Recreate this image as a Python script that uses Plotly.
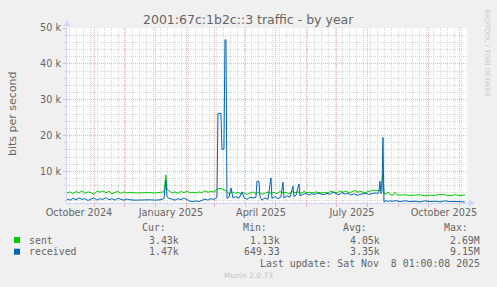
import plotly.graph_objects as go
import pandas as pd

# ---------------- data ----------------
sent_dates = [
    "2024-10-04", "2024-10-07", "2024-10-10", "2024-10-13", "2024-10-16", "2024-10-19",
    "2024-10-22", "2024-10-25", "2024-10-28", "2024-10-31", "2024-11-03", "2024-11-06",
    "2024-11-09", "2024-11-12", "2024-11-15", "2024-11-18", "2024-11-21", "2024-11-24",
    "2024-11-27", "2024-11-30", "2024-12-03", "2024-12-06", "2024-12-11", "2024-12-16",
    "2024-12-21", "2024-12-26", "2024-12-31", "2025-01-05", "2025-01-09", "2025-01-11",
    "2025-01-12", "2025-01-14", "2025-01-17", "2025-01-20", "2025-01-23", "2025-01-26",
    "2025-01-29", "2025-02-01", "2025-02-04", "2025-02-07", "2025-02-10", "2025-02-13",
    "2025-02-16", "2025-02-19", "2025-02-22", "2025-02-25", "2025-02-28", "2025-03-03",
    "2025-03-06", "2025-03-09", "2025-03-12", "2025-03-15", "2025-03-18", "2025-03-21",
    "2025-03-24", "2025-03-27", "2025-03-30", "2025-04-02", "2025-04-05", "2025-04-08",
    "2025-04-11", "2025-04-14", "2025-04-17", "2025-04-20", "2025-04-23", "2025-04-26",
    "2025-04-29", "2025-05-02", "2025-05-05", "2025-05-08", "2025-05-11", "2025-05-14",
    "2025-05-17", "2025-05-20", "2025-05-23", "2025-05-26", "2025-05-29", "2025-06-01",
    "2025-06-04", "2025-06-07", "2025-06-10", "2025-06-13", "2025-06-16", "2025-06-19",
    "2025-06-22", "2025-06-25", "2025-06-28", "2025-07-01", "2025-07-04", "2025-07-07",
    "2025-07-10", "2025-07-13", "2025-07-16", "2025-07-19", "2025-07-22", "2025-07-25",
    "2025-07-28", "2025-07-31", "2025-08-03", "2025-08-06", "2025-08-09", "2025-08-12",
    "2025-08-14", "2025-08-16", "2025-08-17", "2025-08-19", "2025-08-21", "2025-08-23",
    "2025-08-26", "2025-08-28", "2025-08-30", "2025-09-02", "2025-09-07", "2025-09-12",
    "2025-09-17", "2025-09-22", "2025-09-27", "2025-10-02", "2025-10-07", "2025-10-12",
    "2025-10-17", "2025-10-22", "2025-10-27", "2025-11-01", "2025-11-06",
]
sent_kbps = [
    3.9, 4.3, 3.8, 4.4, 4.0, 4.6,
    3.9, 4.3, 4.1, 3.6, 4.5, 4.2,
    4.6, 4.0, 4.5, 3.7, 4.2, 4.4,
    3.9, 4.3, 4.0, 4.2, 4.0, 4.1,
    4.0, 4.1, 4.0, 4.1, 4.3, 9.0,
    5.0, 4.6, 4.0, 4.3, 3.9, 4.4,
    4.1, 4.5, 4.0, 4.2, 4.0, 4.3,
    4.1, 4.6, 4.2, 4.4, 4.3, 5.0,
    5.3, 5.0, 4.6, 3.8, 4.3, 3.9,
    4.2, 3.7, 4.1, 3.6, 4.0, 4.3,
    3.8, 4.2, 3.6, 4.0, 4.3, 3.9,
    4.2, 3.8, 4.4, 4.0, 4.2, 3.7,
    4.4, 4.1, 4.3, 3.9, 4.4, 4.1,
    4.2, 4.0, 4.3, 4.1, 4.0, 4.2,
    4.0, 4.5, 4.3, 4.0, 4.6, 4.2,
    4.5, 4.1, 4.3, 4.7, 4.2, 4.5,
    4.0, 4.3, 4.6, 4.8, 4.7, 4.6,
    4.9, 9.4, 3.8, 3.7, 4.3, 3.5,
    3.4, 4.2, 3.5, 3.4, 3.5, 3.3,
    3.4, 3.5, 3.2, 3.4, 3.3, 3.6,
    3.5, 3.2, 3.5, 3.3, 3.43,
]

recv_dates = [
    "2024-10-04", "2024-10-07", "2024-10-10", "2024-10-13", "2024-10-16", "2024-10-19",
    "2024-10-22", "2024-10-25", "2024-10-28", "2024-10-31", "2024-11-03", "2024-11-06",
    "2024-11-09", "2024-11-12", "2024-11-15", "2024-11-18", "2024-11-21", "2024-11-24",
    "2024-11-27", "2024-11-30", "2024-12-03", "2024-12-06", "2024-12-11", "2024-12-16",
    "2024-12-21", "2024-12-26", "2024-12-31", "2025-01-05", "2025-01-09", "2025-01-11",
    "2025-01-12", "2025-01-14", "2025-01-17", "2025-01-20", "2025-01-23", "2025-01-26",
    "2025-01-29", "2025-02-01", "2025-02-04", "2025-02-07", "2025-02-10", "2025-02-13",
    "2025-02-16", "2025-02-19", "2025-02-22", "2025-02-25", "2025-02-28", "2025-03-03",
    "2025-03-04", "2025-03-07", "2025-03-08", "2025-03-10", "2025-03-11", "2025-03-12",
    "2025-03-13", "2025-03-15", "2025-03-17", "2025-03-19", "2025-03-22", "2025-03-25",
    "2025-03-28", "2025-03-30", "2025-04-02", "2025-04-05", "2025-04-08", "2025-04-11",
    "2025-04-12", "2025-04-14", "2025-04-15", "2025-04-17", "2025-04-20", "2025-04-23",
    "2025-04-26", "2025-04-27", "2025-04-30", "2025-05-03", "2025-05-06", "2025-05-08",
    "2025-05-09", "2025-05-12", "2025-05-15", "2025-05-18", "2025-05-19", "2025-05-21",
    "2025-05-24", "2025-05-25", "2025-05-28", "2025-05-31", "2025-06-03", "2025-06-06",
    "2025-06-09", "2025-06-12", "2025-06-15", "2025-06-18", "2025-06-21", "2025-06-24",
    "2025-06-27", "2025-06-30", "2025-07-03", "2025-07-06", "2025-07-09", "2025-07-12",
    "2025-07-15", "2025-07-18", "2025-07-21", "2025-07-24", "2025-07-27", "2025-07-30",
    "2025-08-02", "2025-08-05", "2025-08-08", "2025-08-11", "2025-08-12", "2025-08-13",
    "2025-08-14", "2025-08-15", "2025-08-16", "2025-08-17", "2025-08-19", "2025-08-21",
    "2025-08-23", "2025-08-26", "2025-08-29", "2025-09-01", "2025-09-04", "2025-09-08",
    "2025-09-12", "2025-09-17", "2025-09-22", "2025-09-27", "2025-10-02", "2025-10-07",
    "2025-10-12", "2025-10-17", "2025-10-22", "2025-10-27", "2025-11-01", "2025-11-06",
]
recv_kbps = [
    2.3, 2.0, 2.5, 2.1, 2.6, 2.2,
    2.4, 1.9, 2.3, 2.6, 2.0, 2.4,
    2.2, 2.7, 2.1, 2.4, 2.0, 2.5,
    2.2, 2.0, 2.3, 2.1, 2.0, 2.1,
    2.0, 2.1, 2.0, 2.1, 2.4, 7.5,
    3.0, 2.5, 2.3, 2.0, 2.4, 2.1,
    2.6, 2.2, 1.7, 1.6, 1.8, 1.6,
    1.9, 2.3, 2.0, 2.4, 2.2, 2.8,
    26.2, 26.2, 16.2, 16.2, 46.7, 46.7,
    2.5, 2.8, 5.4, 2.6, 3.0, 2.5,
    4.3, 2.7, 2.2, 2.8, 2.6, 2.8,
    7.3, 7.2, 2.9, 2.0, 2.6, 2.2,
    8.2, 2.5, 3.0, 2.4, 2.9, 7.0,
    2.6, 3.2, 2.8, 5.9, 3.0, 3.4,
    6.5, 3.2, 3.6, 3.9, 3.4, 3.8,
    3.6, 4.0, 3.7, 3.5, 3.9, 3.6,
    4.2, 3.8, 3.5, 4.1, 3.7, 3.9,
    3.4, 3.8, 3.3, 3.6, 3.7, 3.9,
    3.6, 3.8, 4.0, 3.9, 4.5, 7.3,
    3.8, 4.5, 19.5, 1.5, 1.9, 1.6,
    1.8, 1.7, 1.9, 1.6, 1.7, 1.8,
    1.6, 1.7, 1.5, 1.8, 1.6, 1.7,
    1.5, 1.8, 1.6, 1.7, 1.6, 1.47,
]

y_ticks = [10000, 20000, 30000, 40000, 50000]
y_tick_labels = ["10 k", "20 k", "30 k", "40 k", "50 k"]
x_label_dates = ["2024-10-16", "2025-01-16", "2025-04-16", "2025-07-16", "2025-10-16"]
x_labels = ["October 2024", "January 2025", "April 2025", "July 2025", "October 2025"]

title = "2001:67c:1b2c::3 traffic - by year"
y_title = "bits per second"
legend_names = ["sent", "received"]
legend_cur = ["3.43k", "1.47k"]
legend_min = ["1.13k", "649.33"]
legend_avg = ["4.05k", "3.35k"]
legend_max = ["2.69M", "9.15M"]
last_update = "Last update: Sat Nov  8 01:00:08 2025"
munin_ver = "Munin 2.0.73"
watermark = "RRDTOOL / TOBI OETIKER"

# ---------------- styling ----------------
W, H = 497, 287
L, R, T, B = 67, 30, 28, 84
PW, PH = W - L - R, H - T - B
X0 = pd.Timestamp("2024-10-04 01:00")
X1 = pd.Timestamp("2025-11-08 01:00")
Y0, Y1 = 1200, 50000

C_SENT = "#00CC00"
C_RECV = "#0066B3"
C_AXIS = "#CFD6F8"
C_FONT = "#666666"
C_MGRID = "#EDB4B4"
C_GRID = "#D8D8D8"
SANS = "DejaVu Sans"
MONO = "DejaVu Sans Mono"


def fx(px):
    return (px - L) / PW


def fy(py):
    return (T + PH - py) / PH


month_starts = pd.date_range("2024-11-01", "2025-11-01", freq="MS")
week_lines = [d for d in pd.date_range("2024-10-07", "2025-11-07", freq="7D")]

fig = go.Figure()
fig.add_trace(go.Scatter(
    x=pd.to_datetime(sent_dates), y=[v * 1000 for v in sent_kbps],
    mode="lines", line=dict(color=C_SENT, width=1), name=legend_names[0],
    hoverinfo="skip"))
fig.add_trace(go.Scatter(
    x=pd.to_datetime(recv_dates), y=[v * 1000 for v in recv_kbps],
    mode="lines", line=dict(color=C_RECV, width=1), name=legend_names[1],
    hoverinfo="skip"))
# helper (invisible) trace to carry the minor x grid axis
fig.add_trace(go.Scatter(x=[X0, X1], y=[Y0, Y0], xaxis="x2", mode="lines",
                         line=dict(width=0), showlegend=False, hoverinfo="skip"))

fig.update_layout(
    width=W, height=H,
    margin=dict(l=L, r=R, t=T, b=B, pad=0),
    paper_bgcolor="#F0F0F0", plot_bgcolor="#FFFFFF",
    showlegend=False,
    font=dict(family=SANS, color=C_FONT, size=10),
    xaxis=dict(
        range=[X0, X1], tickmode="array", tickvals=pd.to_datetime(x_label_dates),
        ticktext=x_labels, showgrid=False, zeroline=False,
        showline=True, linecolor=C_AXIS, linewidth=1,
        ticks="", tickfont=dict(family=SANS, size=9.7, color=C_FONT),
        minor=dict(tickvals=month_starts, showgrid=True, gridcolor=C_MGRID,
                   griddash="1px,1px", gridwidth=1, ticks="outside",
                   ticklen=3, tickcolor=C_MGRID),
        layer="above traces",
    ),
    xaxis2=dict(
        range=[X0, X1], overlaying="x", tickmode="array", tickvals=week_lines,
        showticklabels=False, showgrid=True, gridcolor=C_GRID,
        griddash="1px,1px", gridwidth=1, zeroline=False, showline=False,
        ticks="", layer="below traces",
    ),
    yaxis=dict(
        range=[Y0, Y1], tickmode="array", tickvals=y_ticks, ticktext=y_tick_labels,
        showgrid=True, gridcolor=C_MGRID, griddash="1px,1px", gridwidth=1,
        zeroline=False, showline=True, linecolor=C_AXIS, linewidth=1,
        ticks="outside", ticklen=3, tickcolor=C_MGRID,
        tickfont=dict(family=SANS, size=9.7, color=C_FONT),
        minor=dict(tickvals=list(range(2000, 50000, 2000)), showgrid=True,
                   gridcolor=C_GRID, griddash="1px,1px", gridwidth=1,
                   ticks="outside", ticklen=2, tickcolor=C_GRID),
        layer="above traces",
    ),
)

shapes = []
# axis arrows (y up, x right)
shapes.append(dict(type="line", xref="paper", yref="paper", x0=fx(L), x1=fx(L),
                   y0=fy(T), y1=fy(T - 5), line=dict(color=C_AXIS, width=1)))
shapes.append(dict(type="path", xref="paper", yref="paper",
                   path=f"M {fx(L-3.5)},{fy(T-2)} L {fx(L+3.5)},{fy(T-2)} L {fx(L)},{fy(T-8)} Z",
                   fillcolor=C_AXIS, line=dict(width=0)))
shapes.append(dict(type="line", xref="paper", yref="paper", x0=fx(L + PW), x1=fx(L + PW + 5),
                   y0=fy(T + PH), y1=fy(T + PH), line=dict(color=C_AXIS, width=1)))
shapes.append(dict(type="path", xref="paper", yref="paper",
                   path=f"M {fx(L+PW+2)},{fy(T+PH-3.5)} L {fx(L+PW+2)},{fy(T+PH+3.5)} L {fx(L+PW+8)},{fy(T+PH)} Z",
                   fillcolor=C_AXIS, line=dict(width=0)))
# legend swatches
for i, col in enumerate([C_SENT, C_RECV]):
    yc = 240 + i * 11.7
    shapes.append(dict(type="rect", xref="paper", yref="paper",
                       x0=fx(14), x1=fx(20), y0=fy(yc + 3), y1=fy(yc - 3),
                       fillcolor=col, line=dict(width=0)))
fig.update_layout(shapes=shapes)

ann = []


def text(s, px, py, anchor="left", size=9.9, family=MONO, color=C_FONT, angle=0):
    ann.append(dict(text=s, x=fx(px), y=fy(py), xref="paper", yref="paper",
                    xanchor=anchor, yanchor="middle", showarrow=False,
                    textangle=angle, font=dict(family=family, size=size, color=color)))


text(title, 248.5, 19, anchor="center", size=12.5, family=SANS)
text(y_title, 12, 113, anchor="center", size=11, family=SANS, angle=-90)
for s, px in zip(["Cur:", "Min:", "Avg:", "Max:"], [167.7, 269, 369, 470]):
    text(s, px, 227.7, anchor="right")
for i in range(2):
    py = 240 + i * 11.7
    text(legend_names[i], 26.5, py)
    text(legend_cur[i], 181.2, py, anchor="right")
    text(legend_min[i], 281.7, py, anchor="right")
    text(legend_avg[i], 381.7, py, anchor="right")
    text(legend_max[i], 482.3, py, anchor="right")
text(last_update, 482.3, 263.3, anchor="right")
text(munin_ver, 248, 275.7, anchor="center", size=7.5, family=SANS, color="#C4C4C4")
text(watermark, 487.3, 53.5, anchor="center", size=6.8, family=SANS, color="#C8C8C8", angle=90)
fig.update_layout(annotations=ann)

fig.write_html("out.html")
